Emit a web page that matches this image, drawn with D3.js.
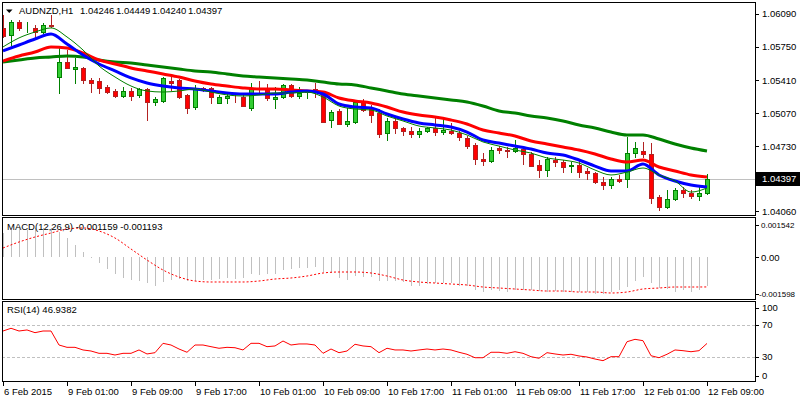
<!DOCTYPE html>
<html><head><meta charset="utf-8">
<script src="https://cdn.jsdelivr.net/npm/d3@7"></script>
<style>
body{margin:0;background:#fff}
svg{display:block}
text{font-family:"Liberation Sans",Arial,sans-serif;font-size:9.5px;fill:#000}
</style>
</head><body>
<svg id="c" width="800" height="400"></svg>
<script>
// ---------- DATA ----------
const symbolTitle = "AUDNZD,H1";
const lastOHLC = ["1.04246","1.04449","1.04240","1.04397"];
const tickBars = [0,8,16,24,32,40,48,56,64,72,80,88];
const tickLabels = ["6 Feb 2015","9 Feb 01:00","9 Feb 09:00","9 Feb 17:00","10 Feb 01:00","10 Feb 09:00","10 Feb 17:00","11 Feb 01:00","11 Feb 09:00","11 Feb 17:00","12 Feb 01:00","12 Feb 09:00"];
const priceTicks = [1.06090,1.05750,1.05410,1.05070,1.04730,1.04060];
const lastPrice = 1.04397;

const opens = [1.05948,1.05876,1.06009,1.05953,1.05948,1.05906,1.05979,1.05443,1.05597,1.05525,
1.05536,1.05412,1.05402,1.05340,1.05299,1.05247,1.05299,1.05258,1.05319,1.05185,
1.05196,1.05402,1.05412,1.05258,1.05134,1.05330,1.05330,1.05175,1.05227,1.05237,
1.05237,1.05124,1.05330,1.05330,1.05216,1.05237,1.05361,1.05247,1.05288,1.05319,
1.05278,1.05000,1.05093,1.04959,1.04979,1.05196,1.05124,1.05072,1.04866,1.04990,
1.04918,1.04887,1.04856,1.04887,1.04918,1.04876,1.04887,1.04866,1.04815,1.04743,
1.04599,1.04578,1.04712,1.04691,1.04681,1.04701,1.04650,1.04537,1.04485,1.04588,
1.04567,1.04526,1.04537,1.04475,1.04454,1.04361,1.04331,1.04392,1.04392,1.04660,
1.04681,1.04650,1.04207,1.04104,1.04186,1.04279,1.04248,1.04217,1.04246];
const highs = [1.06082,1.06030,1.06030,1.06009,1.05979,1.05999,1.06082,1.05752,1.05721,1.05639,
1.05546,1.05433,1.05433,1.05361,1.05319,1.05340,1.05330,1.05330,1.05330,1.05237,
1.05443,1.05443,1.05422,1.05268,1.05361,1.05340,1.05340,1.05258,1.05278,1.05268,
1.05268,1.05381,1.05402,1.05371,1.05340,1.05371,1.05371,1.05340,1.05309,1.05381,
1.05299,1.05103,1.05113,1.05124,1.05206,1.05216,1.05154,1.05113,1.05020,1.05031,
1.04928,1.04928,1.04918,1.04928,1.05020,1.05020,1.04969,1.04887,1.04835,1.04763,
1.04660,1.04722,1.04732,1.04722,1.04794,1.04722,1.04670,1.04588,1.04619,1.04619,
1.04588,1.04567,1.04588,1.04506,1.04464,1.04413,1.04413,1.04434,1.04825,1.04774,
1.04774,1.04763,1.04228,1.04279,1.04300,1.04310,1.04279,1.04310,1.04449];
const lows = [1.05855,1.05772,1.05927,1.05906,1.05855,1.05896,1.05958,1.05278,1.05536,1.05381,
1.05381,1.05288,1.05278,1.05278,1.05237,1.05237,1.05206,1.05237,1.05000,1.05154,
1.05185,1.05309,1.05227,1.05072,1.05113,1.05299,1.05175,1.05175,1.05175,1.05185,
1.05144,1.05103,1.05278,1.05206,1.05124,1.05227,1.05237,1.05227,1.05227,1.05237,
1.04979,1.04928,1.04959,1.04938,1.04969,1.05093,1.04979,1.04825,1.04794,1.04866,
1.04846,1.04825,1.04825,1.04876,1.04846,1.04856,1.04856,1.04794,1.04712,1.04547,
1.04537,1.04567,1.04660,1.04619,1.04670,1.04547,1.04526,1.04413,1.04423,1.04526,
1.04464,1.04464,1.04413,1.04392,1.04351,1.04289,1.04300,1.04361,1.04310,1.04619,
1.04619,1.04145,1.04073,1.04094,1.04176,1.04207,1.04197,1.04176,1.04240];
const closes = [1.05865,1.06009,1.05948,1.05958,1.05906,1.05979,1.05968,1.05597,1.05536,1.05546,
1.05412,1.05381,1.05330,1.05288,1.05247,1.05299,1.05247,1.05319,1.05185,1.05216,
1.05433,1.05381,1.05237,1.05124,1.05330,1.05324,1.05237,1.05237,1.05247,1.05232,
1.05144,1.05330,1.05319,1.05227,1.05237,1.05361,1.05247,1.05278,1.05309,1.05288,
1.04979,1.05082,1.04959,1.04990,1.05185,1.05103,1.05051,1.04856,1.04990,1.04918,
1.04887,1.04856,1.04887,1.04918,1.04876,1.04897,1.04866,1.04825,1.04732,1.04599,
1.04578,1.04691,1.04691,1.04681,1.04712,1.04650,1.04526,1.04485,1.04599,1.04567,
1.04516,1.04537,1.04464,1.04454,1.04361,1.04331,1.04392,1.04372,1.04660,1.04712,
1.04650,1.04197,1.04104,1.04186,1.04279,1.04248,1.04217,1.04248,1.04397];

// moving averages, read every second bar
const maBlue = [1.05711,1.05772,1.05834,1.05886,1.05783,1.05670,1.05577,1.05505,1.05433,1.05381,
1.05350,1.05330,1.05319,1.05299,1.05278,1.05268,1.05268,1.05268,1.05288,1.05299,
1.05268,1.05165,1.05134,1.05124,1.05062,1.05010,1.04969,1.04949,1.04928,1.04876,
1.04794,1.04763,1.04732,1.04701,1.04660,1.04640,1.04588,1.04526,1.04475,1.04475,
1.04547,1.04434,1.04372,1.04331,1.04310];
const maRed = [1.05608,1.05659,1.05700,1.05752,1.05742,1.05690,1.05618,1.05577,1.05536,1.05505,
1.05474,1.05443,1.05402,1.05371,1.05350,1.05330,1.05319,1.05319,1.05309,1.05299,
1.05288,1.05227,1.05196,1.05175,1.05134,1.05082,1.05051,1.05031,1.05000,1.04959,
1.04897,1.04866,1.04835,1.04784,1.04753,1.04722,1.04691,1.04650,1.04599,1.04567,
1.04588,1.04516,1.04475,1.04434,1.04413];
const maGreen = [1.05597,1.05618,1.05639,1.05649,1.05659,1.05649,1.05618,1.05597,1.05587,1.05566,
1.05546,1.05525,1.05505,1.05494,1.05474,1.05453,1.05443,1.05433,1.05423,1.05412,
1.05391,1.05371,1.05361,1.05330,1.05299,1.05268,1.05247,1.05227,1.05206,1.05185,
1.05144,1.05093,1.05072,1.05041,1.05020,1.04990,1.04949,1.04918,1.04876,1.04846,
1.04846,1.04804,1.04753,1.04712,1.04681];
const maFast = [1.05752,1.05845,1.05906,1.05948,1.05855,1.05721,1.05556,1.05443,1.05350,1.05299,
1.05288,1.05299,1.05319,1.05288,1.05258,1.05247,1.05258,1.05278,1.05278,1.05288,
1.05237,1.05144,1.05113,1.05103,1.05041,1.04990,1.04938,1.04918,1.04897,1.04846,
1.04774,1.04732,1.04691,1.04660,1.04609,1.04588,1.04557,1.04485,1.04434,1.04464,
1.04506,1.04434,1.04372,1.04258,1.04300];

// MACD
const macdMain = [0.000966,0.001099,0.001168,0.001099,0.001168,0.001192,0.001168,0.001031,0.000765,0.000495,
0.000225,-0.000028,-0.000242,-0.000483,-0.000684,-0.000821,-0.000914,-0.000954,-0.001047,-0.001143,
-0.000982,-0.000914,-0.000874,-0.000942,-0.000954,-0.000914,-0.000914,-0.000874,-0.000845,-0.000874,
-0.000821,-0.000684,-0.000713,-0.000684,-0.000684,-0.000511,-0.000471,-0.000443,-0.000443,-0.000403,
-0.000604,-0.000644,-0.000821,-0.000914,-0.000741,-0.000781,-0.000781,-0.000954,-0.000942,-0.000954,
-0.000982,-0.001143,-0.001143,-0.001087,-0.001047,-0.001047,-0.001047,-0.001143,-0.001143,-0.001317,
-0.001409,-0.001317,-0.001357,-0.001385,-0.001317,-0.001317,-0.001317,-0.001357,-0.001385,-0.001357,
-0.001409,-0.001409,-0.001409,-0.001409,-0.001490,-0.001490,-0.001409,-0.001317,-0.001184,-0.000954,
-0.000781,-0.001047,-0.001224,-0.001276,-0.001385,-0.001317,-0.001385,-0.001317,-0.001159];
const macdSignal = [0.000374,0.000616,0.000817,0.000978,0.001139,0.001180,0.001059,0.000777,0.000334,-0.000109,
-0.000511,-0.000793,-0.000954,-0.000994,-0.000994,-0.000994,-0.000954,-0.000874,-0.000833,-0.000753,
-0.000632,-0.000592,-0.000592,-0.000632,-0.000753,-0.000914,-0.000994,-0.001035,-0.001075,-0.001115,
-0.001196,-0.001236,-0.001276,-0.001317,-0.001357,-0.001357,-0.001397,-0.001397,-0.001437,-0.001397,
-0.001276,-0.001236,-0.001196,-0.001196,-0.001193];
const macdTicks = [0.001542, 0, -0.001598];
const macdTickLabels = ["0.001542","0.00","-0.001598"];

// RSI
const rsi = [62.5,65.9,62.5,63.8,60.4,62.5,62.5,45.0,42.1,42.1,
38.8,37.5,34.6,34.6,32.5,34.6,34.6,38.8,33.8,35.4,
47.1,45.0,40.0,35.9,45.0,45.0,42.9,40.9,42.1,41.6,
38.8,47.1,47.1,42.9,43.8,50.0,45.0,46.3,46.3,45.0,
34.6,40.0,35.4,37.5,45.9,43.8,42.9,35.4,40.9,38.8,
38.8,37.5,38.8,40.0,38.8,40.0,38.8,35.9,33.4,29.1,
29.1,35.9,35.9,34.6,36.6,34.6,30.4,28.4,35.4,33.8,
32.5,33.4,31.3,30.0,27.5,25.4,30.4,30.4,49.1,52.1,
50.4,31.6,29.1,33.4,38.8,37.9,36.6,37.9,46.94];
const rsiTicks = [100,70,30,0];
const rsiLevels = [70,30];

// ---------- LAYOUT ----------
const nBars = opens.length;
const maBars = d3.range(0, nBars, 2);
const L = 2, R = 755;
const P = {top:2, bottom:215}, M = {top:217, bottom:299}, Q = {top:301, bottom:381};

const x = d3.scaleLinear().domain([0, nBars-1]).range([3, 707]);
const yP = d3.scaleLinear().domain([1.04022, 1.06215]).range([215, 2]);
const yM = d3.scaleLinear().domain([-0.001598, 0.001542]).range([297, 219]);
const yR = d3.scaleLinear().domain([0, 100]).range([381, 301]);

const svg = d3.select("#c");
const defs = svg.append("defs");
function clip(id, p){
  defs.append("clipPath").attr("id", id).append("rect")
    .attr("x", L+1).attr("y", p.top+1).attr("width", R-L-1).attr("height", p.bottom-p.top-1);
}
clip("cp", P); clip("cm", M); clip("cr", Q);

const px = v => Math.round(v) + 0.5;

// ---------- MAIN PANEL ----------
const gP = svg.append("g").attr("clip-path", "url(#cp)");
gP.append("line").attr("x1", L).attr("x2", R)
  .attr("y1", px(yP(lastPrice))).attr("y2", px(yP(lastPrice)))
  .attr("stroke", "#c0c0c0").attr("stroke-width", 1);

const idx = d3.range(nBars);
const bull = i => closes[i] >= opens[i];
gP.selectAll("line.wick").data(idx).join("line").attr("class","wick")
  .attr("x1", i => x(i)+0.5).attr("x2", i => x(i)+0.5)
  .attr("y1", i => Math.round(yP(highs[i]))).attr("y2", i => Math.round(yP(lows[i]))+1)
  .attr("stroke", i => bull(i) ? "#008000" : "#b22222").attr("stroke-width", 1);
gP.selectAll("rect.body").data(idx).join("rect").attr("class","body")
  .attr("x", i => x(i)-1.5).attr("width", 4)
  .attr("y", i => Math.round(yP(Math.max(opens[i], closes[i]))) + 0.5)
  .attr("height", i => Math.max(0, Math.round(yP(Math.min(opens[i], closes[i]))) - Math.round(yP(Math.max(opens[i], closes[i])))))
  .attr("fill", i => bull(i) ? "#32cd32" : "#ff0000")
  .attr("stroke", i => bull(i) ? "#008000" : "#b22222").attr("stroke-width", 1);

function maLine(vals, color, w){
  const line = d3.line().x((d,k) => x(maBars[k])).y(d => yP(d)).curve(d3.curveMonotoneX);
  gP.append("path").datum(vals).attr("d", line).attr("fill","none")
    .attr("stroke", color).attr("stroke-width", w).attr("stroke-linejoin","round");
}
maLine(maGreen, "#008000", 3);
maLine(maRed, "#ff0000", 3);
maLine(maBlue, "#0000ff", 3);
maLine(maFast, "#008000", 1);

// ---------- MACD PANEL ----------
const gM = svg.append("g").attr("clip-path", "url(#cm)");
gM.selectAll("line.hist").data(idx).join("line").attr("class","hist")
  .attr("x1", i => x(i)+0.5).attr("x2", i => x(i)+0.5)
  .attr("y1", Math.round(yM(0))).attr("y2", i => Math.round(yM(macdMain[i])))
  .attr("stroke", "#c0c0c0").attr("stroke-width", 1);
gM.append("path").datum(macdSignal)
  .attr("d", d3.line().x((d,k) => x(maBars[k])).y(d => yM(d)).curve(d3.curveMonotoneX))
  .attr("fill","none").attr("stroke","#ff0000").attr("stroke-width",1).attr("stroke-dasharray","2,2");

// ---------- RSI PANEL ----------
const gR = svg.append("g").attr("clip-path", "url(#cr)");
gR.selectAll("line.lvl").data(rsiLevels).join("line").attr("class","lvl")
  .attr("x1", L).attr("x2", R).attr("y1", d => px(yR(d))).attr("y2", d => px(yR(d)))
  .attr("stroke","#c0c0c0").attr("stroke-dasharray","3,2");
gR.append("path").datum(rsi)
  .attr("d", d3.line().x((d,i) => x(i)).y(d => yR(d)))
  .attr("fill","none").attr("stroke","#ff0000").attr("stroke-width",1);

// ---------- FRAMES ----------
[P, M, Q].forEach(p => {
  svg.append("rect").attr("x", L+0.5).attr("y", p.top+0.5)
    .attr("width", R-L).attr("height", p.bottom-p.top)
    .attr("fill","none").attr("stroke","#000").attr("stroke-width",1);
});

// ---------- RIGHT AXES ----------
const ax = svg.append("g");
priceTicks.forEach(v => {
  const y = yP(v);
  ax.append("line").attr("x1", R).attr("x2", R+4).attr("y1", px(y)).attr("y2", px(y)).attr("stroke","#000");
  ax.append("text").attr("x", R+7).attr("y", y).attr("dy","0.35em").text(v.toFixed(5));
});
{
  const y = Math.round(yP(lastPrice));
  ax.append("rect").attr("x", R+1).attr("y", y-7).attr("width", 800-R).attr("height", 14).attr("fill","#000");
  ax.append("text").attr("x", R+7).attr("y", y).attr("dy","0.35em").style("fill","#fff").text(lastPrice.toFixed(5));
}
macdTicks.forEach((v,k) => {
  let y = yM(v);
  if (k === 0) y += 6; if (k === 2) y -= 3;
  ax.append("line").attr("x1", R).attr("x2", R+4).attr("y1", px(y)).attr("y2", px(y)).attr("stroke","#000");
  const t = ax.append("text").attr("x", k === 2 ? R+4 : R+6).attr("y", y).attr("dy","0.35em").text(macdTickLabels[k]);
  if (k !== 1) t.style("font-size", "8px");
});
rsiTicks.forEach(v => {
  let y = yR(v);
  if (v === 100) y += 7; if (v === 0) y -= 5;
  ax.append("line").attr("x1", R).attr("x2", R+4).attr("y1", px(y)).attr("y2", px(y)).attr("stroke","#000");
  ax.append("text").attr("x", R+7).attr("y", y).attr("dy","0.35em").text(v);
});

// ---------- TIME AXIS ----------
tickBars.forEach((b,k) => {
  ax.append("line").attr("x1", x(b)+0.5).attr("x2", x(b)+0.5).attr("y1", Q.bottom).attr("y2", Q.bottom+5).attr("stroke","#000");
  ax.append("text").attr("x", x(b)+1).attr("y", 395).text(tickLabels[k]);
});

// ---------- TITLES ----------
svg.append("path").attr("d","M6,9.5 L12.5,9.5 L9.25,13 Z").attr("fill","#000");
svg.append("text").attr("x", 19).attr("y", 14).text(symbolTitle);
lastOHLC.forEach((s,k) => svg.append("text").attr("x", 80 + k*36).attr("y", 14).text(s));
svg.append("text").attr("x", 7).attr("y", 229.5)
  .text(`MACD(12,26,9) ${macdMain[nBars-1].toFixed(6)} ${macdSignal[macdSignal.length-1].toFixed(6)}`);
svg.append("text").attr("x", 7).attr("y", 313).text("RSI(14) 46.9382");
</script>
</body></html>
